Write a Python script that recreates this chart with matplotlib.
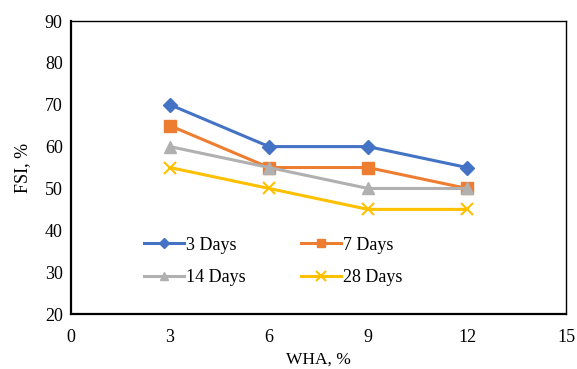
import matplotlib
matplotlib.use("Agg")
import matplotlib.pyplot as plt

# WHA content (%) and FSI (%) per curing period
wha = [3, 6, 9, 12]
fsi_3d = [70, 60, 60, 55]
fsi_7d = [65, 55, 55, 50]
fsi_14d = [60, 55, 50, 50]
fsi_28d = [55, 50, 45, 45]
series_labels = ["3 Days", "7 Days", "14 Days", "28 Days"]
x_ticks = [0, 3, 6, 9, 12, 15]
y_ticks = [20, 30, 40, 50, 60, 70, 80, 90]

plt.rcParams["font.family"] = ["Liberation Serif", "DejaVu Serif"]

fig = plt.figure(figsize=(5.77, 3.69), dpi=100)
ax = fig.add_axes([0.123, 0.149, 0.858, 0.794])

styles = [
    dict(color="#4472C4", marker="D", markersize=7),
    dict(color="#ED7D31", marker="s", markersize=8),
    dict(color="#B0B0B0", marker="^", markersize=8),
    dict(color="#FFC000", marker="x", markersize=9, markeredgewidth=1.5),
]
lines = []
for vals, lab, st in zip([fsi_3d, fsi_7d, fsi_14d, fsi_28d], series_labels, styles):
    ln, = ax.plot(wha, vals, label=lab, linewidth=2.2, **st)
    lines.append(ln)

ax.set_xlim(0, 15)
ax.set_ylim(20, 90)
ax.set_xticks(x_ticks)
ax.set_yticks(y_ticks)
ax.tick_params(length=0, labelsize=13)
ax.tick_params(axis="y", pad=6)
ax.tick_params(axis="x", pad=11)
ax.set_xlabel("WHA, %", fontsize=12.5, labelpad=4)
ax.set_ylabel("FSI, %", fontsize=13, labelpad=10)

for side in ["left", "bottom"]:
    ax.spines[side].set_linewidth(1.6)
for side in ["top", "right"]:
    ax.spines[side].set_linewidth(1.0)

# legend fills row by row: 3 Days, 7 Days / 14 Days, 28 Days
order = [0, 2, 1, 3]
ax.legend([lines[i] for i in order], [series_labels[i] for i in order],
          ncol=2, loc="lower left", bbox_to_anchor=(0.115, 0.04), frameon=False,
          fontsize=13, handlelength=2.2, handletextpad=0.1, columnspacing=3.1,
          labelspacing=0.85, markerscale=0.8)

fig.savefig("out.png", dpi=100)
